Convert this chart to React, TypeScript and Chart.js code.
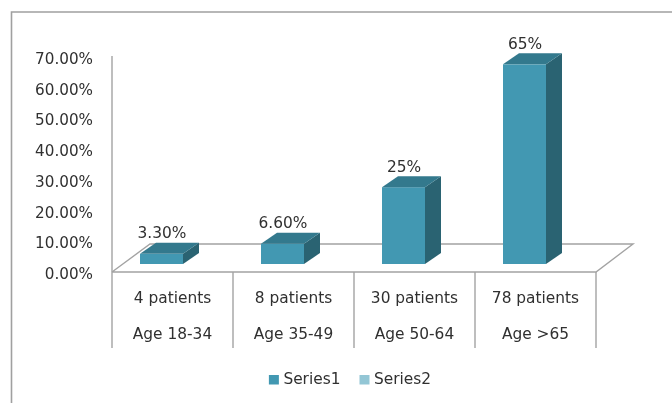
import { useEffect, useRef } from "react";
import { Chart, registerables } from "chart.js";

Chart.register(...registerables);

// Data
const patientLabels = ["4 patients", "8 patients", "30 patients", "78 patients"];
const ageLabels = ["Age 18-34", "Age 35-49", "Age 50-64", "Age >65"];
const series1Values = [0.033, 0.066, 0.25, 0.65];
const series1ValueLabels = ["3.30%", "6.60%", "25%", "65%"];
const series2Values: (number | null)[] = [null, null, null, null];
const yMax = 0.7;
const yStep = 0.1;

// Styling
const FONT = "'DejaVu Sans', sans-serif";
const TEXT = "#303030";
const LINE = "#a3a3a3";
const FRONT = "#4298b2";
const TOP = "#33798d";
const SIDE = "#2a6372";
const SERIES2 = "#93c6d5";

// 3D projection of the floor and the bars
const FLOOR_DX = 37;
const FLOOR_DY = -28;
const BAR_SHIFT_X = -11;
const BAR_SHIFT_Y = -8;
const BAR_W = 43;
const BAR_DX = 16;
const BAR_DY = -11;

const threeD = {
  id: "threeD",
  beforeDraw(chart: any) {
    const { ctx, width, height } = chart;
    ctx.save();
    ctx.fillStyle = "#ffffff";
    ctx.fillRect(0, 0, width, height);
    // outer frame
    ctx.strokeStyle = "#a0a0a0";
    ctx.lineWidth = 1.6;
    ctx.beginPath();
    ctx.moveTo(11.5, height + 2);
    ctx.lineTo(11.5, 12);
    ctx.lineTo(width + 2, 12);
    ctx.stroke();
    ctx.restore();
  },
  beforeDatasetDraw() {
    return false;
  },
  afterDatasetsDraw(chart: any) {
    const { ctx, chartArea } = chart;
    const xs = chart.scales.x;
    const ys = chart.scales.y;
    const left = chartArea.left;
    const right = chartArea.right;
    const y0 = ys.getPixelForValue(0);
    const yTop = ys.getPixelForValue(yMax);
    const n = patientLabels.length;

    ctx.save();
    ctx.strokeStyle = LINE;
    ctx.lineWidth = 1.4;

    // floor
    ctx.beginPath();
    ctx.moveTo(left, y0);
    ctx.lineTo(right, y0);
    ctx.lineTo(right + FLOOR_DX, y0 + FLOOR_DY);
    ctx.lineTo(left + FLOOR_DX + 1, y0 + FLOOR_DY);
    ctx.lineTo(left, y0);
    ctx.stroke();

    // vertical axis line
    ctx.beginPath();
    ctx.moveTo(left, yTop - 1);
    ctx.lineTo(left, y0);
    ctx.stroke();

    // category table
    const tableBottom = y0 + 76;
    ctx.beginPath();
    for (let i = 0; i <= n; i++) {
      const x = i === 0 ? left : i === n ? right : (xs.getPixelForValue(i - 1) + xs.getPixelForValue(i)) / 2;
      ctx.moveTo(x, y0);
      ctx.lineTo(x, tableBottom);
    }
    ctx.stroke();

    ctx.fillStyle = TEXT;
    ctx.font = `15.4px ${FONT}`;
    ctx.textAlign = "center";
    ctx.textBaseline = "middle";
    for (let i = 0; i < n; i++) {
      const cx = xs.getPixelForValue(i);
      ctx.fillText(patientLabels[i], cx, y0 + 27);
      ctx.fillText(ageLabels[i], cx, y0 + 63);
    }

    // bars
    const base = y0 + BAR_SHIFT_Y;
    series1Values.forEach((v, i) => {
      const cx = xs.getPixelForValue(i) + BAR_SHIFT_X;
      const l = cx - BAR_W / 2;
      const r = cx + BAR_W / 2;
      const t = ys.getPixelForValue(v) + BAR_SHIFT_Y;

      ctx.fillStyle = FRONT;
      ctx.fillRect(l, t, BAR_W, base - t);

      ctx.fillStyle = SIDE;
      ctx.beginPath();
      ctx.moveTo(r, t);
      ctx.lineTo(r + BAR_DX, t + BAR_DY);
      ctx.lineTo(r + BAR_DX, base + BAR_DY);
      ctx.lineTo(r, base);
      ctx.closePath();
      ctx.fill();

      ctx.fillStyle = TOP;
      ctx.beginPath();
      ctx.moveTo(l, t);
      ctx.lineTo(l + BAR_DX, t + BAR_DY);
      ctx.lineTo(r + BAR_DX, t + BAR_DY);
      ctx.lineTo(r, t);
      ctx.closePath();
      ctx.fill();

      ctx.fillStyle = TEXT;
      ctx.fillText(series1ValueLabels[i], cx + 0.5, t - 19.5);
    });

    // legend
    const items = chart.data.datasets.map((d: any) => ({ text: d.label, color: d.backgroundColor }));
    const box = 10;
    const gap = 4.5;
    const itemGap = 19;
    ctx.textAlign = "left";
    const widths = items.map((it: any) => box + gap + ctx.measureText(it.text).width);
    const total = widths.reduce((a: number, b: number) => a + b, 0) + itemGap * (items.length - 1);
    let x = 350 - total / 2;
    const ly = 379.5;
    items.forEach((it: any, i: number) => {
      ctx.fillStyle = it.color;
      ctx.fillRect(x, ly - 4.5, box, 9.5);
      ctx.fillStyle = TEXT;
      ctx.fillText(it.text, x + box + gap, ly);
      x += widths[i] + itemGap;
    });

    ctx.restore();
  },
};

export default function App() {
  const ref = useRef<HTMLCanvasElement>(null);

  useEffect(() => {
    document.body.style.margin = "0";
    const canvas = ref.current;
    if (!canvas) return;
    const chart = new Chart(canvas, {
      type: "bar",
      data: {
        labels: patientLabels,
        datasets: [
          { label: "Series1", data: series1Values, backgroundColor: FRONT },
          { label: "Series2", data: series2Values as any, backgroundColor: SERIES2 },
        ],
      },
      options: {
        responsive: false,
        animation: false,
        devicePixelRatio: 1,
        layout: { padding: { top: 57, right: 76, bottom: 131, left: 0 } },
        plugins: {
          legend: { display: false },
          tooltip: { enabled: false },
        },
        scales: {
          x: { type: "category", display: false, offset: true },
          y: {
            min: 0,
            max: yMax,
            grid: { display: false, drawTicks: false },
            border: { display: false },
            ticks: {
              stepSize: yStep,
              padding: 19,
              labelOffset: 3,
              color: TEXT,
              font: { family: FONT, size: 15.2 },
              callback: (v: any) => (Number(v) * 100).toFixed(2) + "%",
            },
            afterFit: (scale: any) => {
              scale.width = 112;
            },
          },
        },
      },
      plugins: [threeD],
    });
    return () => chart.destroy();
  }, []);

  return (
    <div style={{ width: 672, height: 403, background: "#fff" }}>
      <canvas ref={ref} width={672} height={403} style={{ display: "block" }} />
    </div>
  );
}
